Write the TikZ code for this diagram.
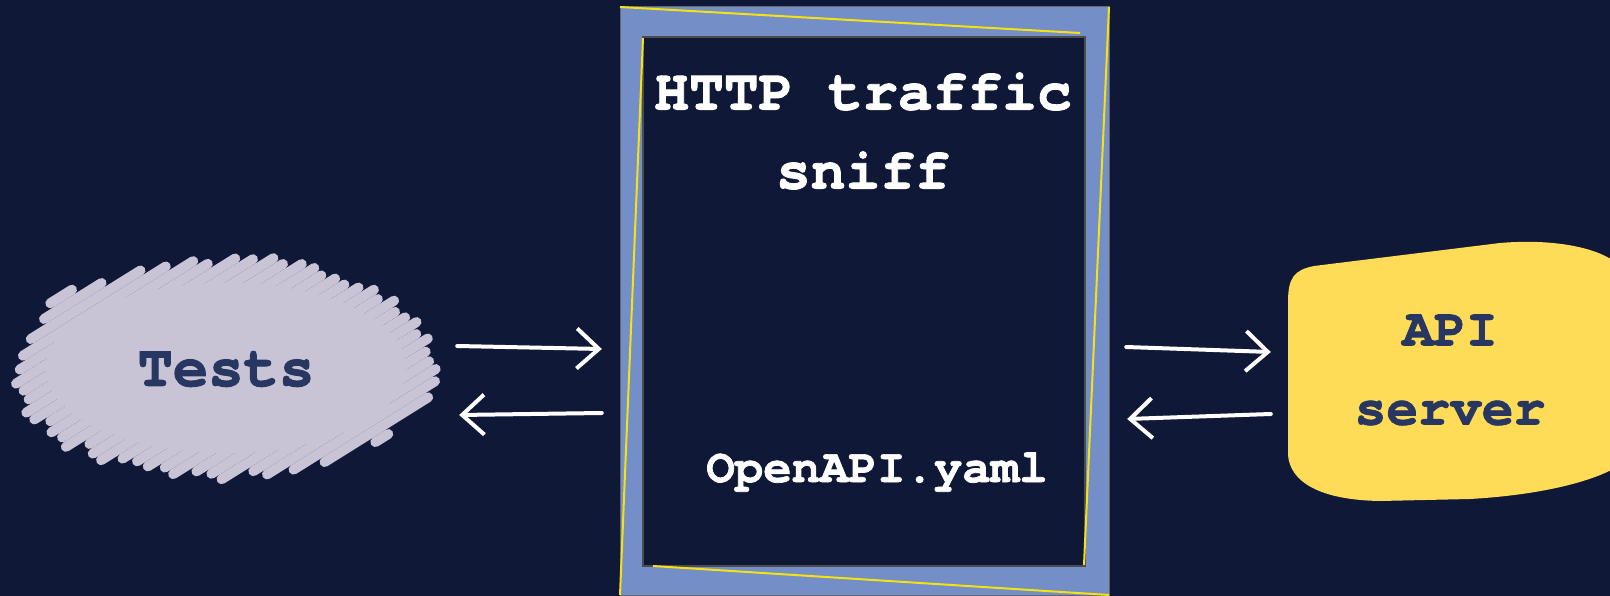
\documentclass[tikz,border=0pt]{standalone}
\usepackage{fontspec}
\setmonofont{TeX Gyre Cursor}[Ligatures=NoCommon, BoldFeatures={FakeBold=1.5}]
\usepackage{tikz}
\usetikzlibrary{arrows.meta, shapes.geometric}
\definecolor{bgnavy}{RGB}{16,24,56}
\definecolor{frameblue}{RGB}{116,143,200}
\definecolor{scribble}{RGB}{200,196,214}
\definecolor{inkblue}{RGB}{40,54,98}
\definecolor{apiyellow}{RGB}{255,220,88}
\definecolor{sketchyellow}{RGB}{245,225,20}

\begin{document}
\begin{tikzpicture}[x=1pt, y=-1pt, >={Straight Barb[length=22pt,width=40pt]},
  hand/.style={->, white, line width=4pt, line cap=round, line join=round},
  mono/.style={font=\ttfamily\bfseries\fontsize{#1}{79}\selectfont, align=center, inner sep=0pt}]
  \fill[bgnavy] (0,0) rectangle (1610,596);
  \useasboundingbox (0,0) rectangle (1610,596);

  \begin{scope}[shift={(226,368)}]
    \fill[scribble] (0,0) ellipse [x radius=180, y radius=85];
    \pgfmathsetseed{11}
    \pgfmathsetmacro\cc{cos(32)}
    \pgfmathsetmacro\ss{sin(32)}
    \pgfmathsetmacro\A{\cc*\cc/4.2025+\ss*\ss/1.1025}
    \foreach \t in {-1.48,-1.38,...,1.49}{
      \pgfmathsetmacro\B{2*\t*\ss*\cc*(1/4.2025-1/1.1025)}
      \pgfmathsetmacro\C{\t*\t*(\ss*\ss/4.2025+\cc*\cc/1.1025)-1}
      \pgfmathsetmacro\D{sqrt(max(\B*\B-4*\A*\C,0.0004))}
      \pgfmathsetmacro\ua{(-\B-\D)/(2*\A)+0.04-0.18*rnd}
      \pgfmathsetmacro\ub{(-\B+\D)/(2*\A)-0.04+0.18*rnd}
      \draw[scribble, line width=10pt, line cap=round]
        ({100*(\t*\ss+\ua*\cc)},{100*(\t*\cc-\ua*\ss)}) --
        ({100*(\t*\ss+\ub*\cc)},{100*(\t*\cc-\ub*\ss)});
    }
  \end{scope}
  \node[mono=59, text=inkblue, ellipse, minimum width=430pt, minimum height=226pt] (tests) at (226,369) {Tests};

  \fill[frameblue, draw=black!60, line width=1pt] (620,7) rectangle (1109,595);
  \fill[bgnavy, draw=black!70!white, line width=2pt] (643,37) rectangle (1085,566);
  \draw[sketchyellow, line width=2pt] (620,7) -- (1080,33);
  \draw[sketchyellow, line width=2pt] (1109,7) -- (1084,565);
  \draw[sketchyellow, line width=2pt] (643,38) -- (620,595);
  \draw[sketchyellow, line width=2pt] (653,566) -- (1109,595);
  \node[minimum width=489pt, minimum height=588pt] (proxy) at (864.5,301) {};
  \node[mono=58, text=white] (sniff) at (863,131) {HTTP traffic\\sniff};
  \node[mono=47.4, text=white, anchor=base] (yaml) at (877,482) {OpenAPI.yaml};

  \fill[apiyellow] (1288,302) .. controls (1288,278) and (1294,270) .. (1314,266)
    -- (1500,243) .. controls (1560,238) and (1600,250) .. (1615,262)
    -- (1615,468) .. controls (1590,482) and (1540,495) .. (1470,499)
    -- (1380,501) .. controls (1320,500) and (1290,482) .. (1288,455) -- cycle;
  \node[mono=53, text=inkblue, minimum width=326pt, minimum height=260pt] (api) at (1450,370) {API\\server};

  \draw[hand] ([xshift=16pt,yshift=23pt]tests.east) -- ([xshift=-18pt,yshift=-48pt]proxy.west);
  \draw[hand] ([xshift=-18pt,yshift=-112pt]proxy.west) -- ([xshift=18pt,yshift=-46pt]tests.east);
  \draw[hand] ([xshift=17pt,yshift=-46pt]proxy.east) -- ([xshift=-16pt,yshift=18pt]api.west);
  \draw[hand] ([xshift=-16pt,yshift=-44pt]api.west) -- ([xshift=18pt,yshift=-118pt]proxy.east);
\end{tikzpicture}
\end{document}
